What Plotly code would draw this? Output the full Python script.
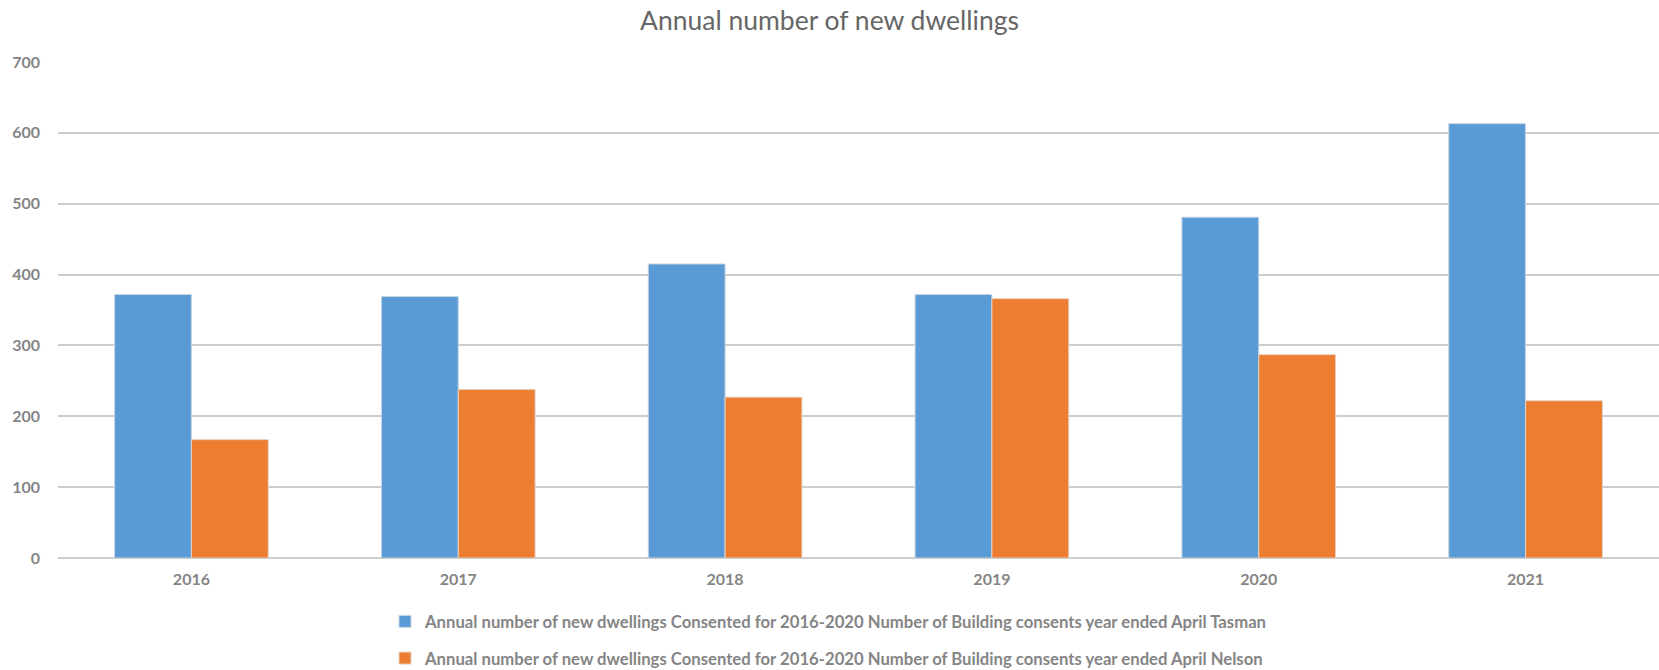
import plotly.graph_objects as go

years = ["2016", "2017", "2018", "2019", "2020", "2021"]
tasman = [372, 369, 415, 372, 481, 613]
nelson = [167, 238, 227, 366, 287, 222]

tasman_name = ("Annual number of new dwellings Consented for 2016-2020 Number of "
               "Building consents year ended April Tasman")
nelson_name = ("Annual number of new dwellings Consented for 2016-2020 Number of "
               "Building consents year ended April Nelson")

TEXT_GREY = "#858585"
GRID = "#cdcdcd"
FONT = "Lato, Open Sans, sans-serif"

fig = go.Figure()
fig.add_trace(go.Bar(
    x=years, y=tasman, name=tasman_name, legendgroup="tasman",
    marker=dict(color="#5b9bd5", line=dict(color="#c9d6e3", width=1)),
))
fig.add_trace(go.Bar(
    x=years, y=nelson, name=nelson_name, legendgroup="nelson",
    marker=dict(color="#ed7d31", line=dict(color="#e6d2c4", width=1)),
))

fig.update_layout(
    width=1659, height=670,
    margin=dict(l=58, r=0, t=62, b=112, autoexpand=False),
    paper_bgcolor="white", plot_bgcolor="white",
    barmode="group", bargap=0.424, bargroupgap=0,
    title=dict(
        text="Annual number of new dwellings",
        x=0.5, xref="container", xanchor="center",
        y=1 - 21 / 670, yref="container", yanchor="middle",
        font=dict(family=FONT, size=26.5, color="#666666"),
    ),
    font=dict(family=FONT, color=TEXT_GREY),
    showlegend=True,
    legend=dict(
        orientation="v",
        xref="container", yref="container",
        x=385 / 1659, xanchor="left",
        y=1 - 604 / 670, yanchor="top",
        traceorder="grouped", tracegroupgap=12,
        font=dict(family=FONT, size=16.7, color=TEXT_GREY, weight="bold"),
        bgcolor="rgba(0,0,0,0)",
    ),
)

fig.update_yaxes(
    range=[0, 700], dtick=100, tick0=0,
    showgrid=True, gridcolor=GRID, gridwidth=1.5,
    zeroline=True, zerolinecolor=GRID, zerolinewidth=1.5,
    showline=False, ticks="", ticklabelstandoff=17,
    tickfont=dict(family=FONT, size=16, color=TEXT_GREY, weight="bold"),
)
fig.update_xaxes(
    showgrid=False, showline=False, ticks="", ticklabelstandoff=10,
    tickfont=dict(family=FONT, size=16, color=TEXT_GREY, weight="bold"),
)

fig.write_html("out.html")
